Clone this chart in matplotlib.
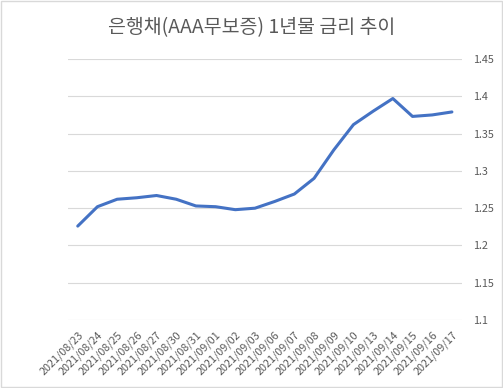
import matplotlib
matplotlib.use('Agg')
import matplotlib.pyplot as plt
from matplotlib.patches import Rectangle

plt.rcParams['font.family'] = ['Noto Sans CJK KR', 'DejaVu Sans']

# 날짜별 금리 (%)
dates = ['2021/08/23', '2021/08/24', '2021/08/25', '2021/08/26', '2021/08/27',
         '2021/08/30', '2021/08/31', '2021/09/01', '2021/09/02', '2021/09/03',
         '2021/09/06', '2021/09/07', '2021/09/08', '2021/09/09', '2021/09/10',
         '2021/09/13', '2021/09/14', '2021/09/15', '2021/09/16', '2021/09/17']
rates = [1.226, 1.252, 1.262, 1.264, 1.267, 1.262, 1.253, 1.252, 1.248, 1.250,
         1.259, 1.269, 1.290, 1.328, 1.362, 1.380, 1.397, 1.373, 1.375, 1.379]
yticks = [1.1, 1.15, 1.2, 1.25, 1.3, 1.35, 1.4, 1.45]
ytick_labels = ['1.1', '1.15', '1.2', '1.25', '1.3', '1.35', '1.4', '1.45']

title = '은행채(AAA무보증) 1년물 금리 추이'
text_color = '#595959'
grid_color = '#D9D9D9'

fig = plt.figure(figsize=(5.03, 3.88), dpi=100)
ax = fig.add_axes([0.135, 0.175, 0.783, 0.673])

x = list(range(len(dates)))
ax.plot(x, rates, color='#4472C4', linewidth=2.2, solid_joinstyle='round',
        solid_capstyle='round')

ax.set_ylim(1.1, 1.45)
ax.set_xlim(-0.5, len(dates) - 0.5)
ax.set_yticks(yticks)
ax.set_yticklabels(ytick_labels)
ax.yaxis.tick_right()
ax.set_xticks(x)
ax.set_xticklabels(dates, rotation=45, ha='right', rotation_mode='anchor')

ax.grid(axis='y', color=grid_color, linewidth=0.8)
ax.set_axisbelow(True)
for s in ax.spines.values():
    s.set_visible(False)
ax.tick_params(axis='y', length=0, pad=8, labelsize=7.8, labelcolor=text_color)
ax.tick_params(axis='x', length=0, pad=7, labelsize=7.8, labelcolor=text_color)

fig.text(0.5, 0.93, title, ha='center', va='center', fontsize=14, color=text_color)

fig.patches.append(Rectangle((0.002, 0.002), 0.996, 0.996, transform=fig.transFigure,
                             fill=False, edgecolor=grid_color, linewidth=1))

fig.savefig('out.png', dpi=100)
